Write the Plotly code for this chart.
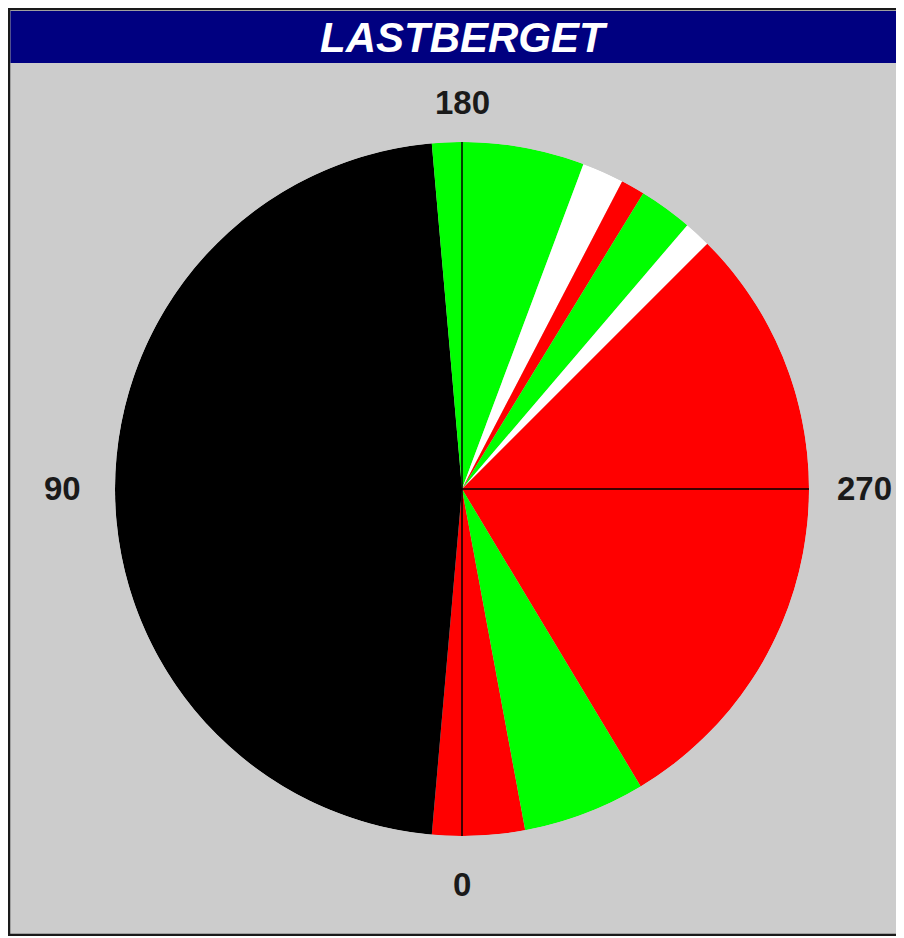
import math
import plotly.graph_objects as go

# ---- data ----
sector_start = [-10.5, 5.0, 175.0, 200.5, 207.5, 211.5, 220.5, 225.0, 329.0]
sector_end = [5.0, 175.0, 200.5, 207.5, 211.5, 220.5, 225.0, 329.0, 349.5]
sector_color = ["#ff0000", "#000000", "#00ff00", "#ffffff", "#ff0000",
                "#00ff00", "#ffffff", "#ff0000", "#00ff00"]
sector_r = [1, 1, 1, 1, 1, 1, 1, 1, 1]
tick_vals = [0, 90, 180, 270]
tick_text = ["0", "90", "180", "270"]
title_text = "LASTBERGET"

theta = [(s + e) / 2 for s, e in zip(sector_start, sector_end)]
width = [e - s for s, e in zip(sector_start, sector_end)]

W, H = 896, 928
cx, cy, rad = 454, 481, 347   # figure pixels (page is offset by body margin)
gap_top, gap_bottom, gap_side_l, gap_side_r = 20, 29, 33, 27
label_font = dict(family="Liberation Sans, Arial",
                  size=33, color="#1a1a1a", weight="bold")

fig = go.Figure()
fig.add_trace(go.Barpolar(
    r=sector_r, theta=theta, width=width,
    marker=dict(color=sector_color, line=dict(width=0)),
    hoverinfo="skip",
))

# angular grid spokes drawn on top of the sectors
grid_r, grid_t = [], []
for t in tick_vals:
    grid_r += [0, 1, None]
    grid_t += [t, t, None]
fig.add_trace(go.Scatterpolar(
    r=grid_r, theta=grid_t, mode="lines",
    line=dict(color="#000000", width=1.5),
    hoverinfo="skip", connectgaps=False,
))

# tick labels placed just outside the circle
annotations = []
for t, txt in zip(tick_vals, tick_text):
    ang = math.radians(270 - t)  # rotation 270, clockwise
    dx, dy = math.cos(ang), math.sin(ang)
    if abs(dx) > 0.5:
        gap = gap_side_r if dx > 0 else gap_side_l
        xa = "left" if dx > 0 else "right"
        ya = "middle"
    else:
        gap = gap_top if dy > 0 else gap_bottom
        xa = "center"
        ya = "bottom" if dy > 0 else "top"
    px = cx + (rad + gap) * dx
    py = (H - cy) + (rad + gap) * dy
    annotations.append(dict(text=txt, xref="paper", yref="paper",
                            x=px / W, y=py / H, xanchor=xa, yanchor=ya,
                            showarrow=False, font=label_font,
                            borderpad=0))

annotations.append(dict(text=title_text, xref="paper", yref="paper",
                        x=456 / W, y=(H - 29) / H, xanchor="center",
                        yanchor="middle", showarrow=False,
                        font=dict(family="Liberation Sans, Arial", size=42,
                                  color="#ffffff", weight="bold",
                                  style="italic")))

fig.update_layout(
    width=W, height=H,
    margin=dict(l=0, r=0, t=0, b=0),
    paper_bgcolor="#cccccc",
    showlegend=False,
    polar=dict(
        domain=dict(x=[(cx - rad) / W, (cx + rad) / W],
                    y=[(H - cy - rad) / H, (H - cy + rad) / H]),
        bgcolor="rgba(0,0,0,0)",
        hole=0,
        radialaxis=dict(range=[0, 1], visible=False),
        angularaxis=dict(
            rotation=270, direction="clockwise",
            tickmode="array", tickvals=tick_vals, ticktext=tick_text,
            showline=False, showgrid=False, showticklabels=False, ticks="",
        ),
    ),
    shapes=[
        dict(type="rect", xref="paper", yref="paper", layer="below",
             x0=1 / W, x1=1.02, y0=1 / H, y1=(H - 1) / H,
             fillcolor="#cccccc", line=dict(color="#1a1a1a", width=2.5)),
        dict(type="rect", xref="paper", yref="paper", layer="below",
             x0=2.5 / W, x1=1.02, y0=(H - 55) / H, y1=(H - 3) / H,
             fillcolor="#000080", line=dict(width=0)),
    ],
    annotations=annotations,
)

fig.write_html("out.html")
